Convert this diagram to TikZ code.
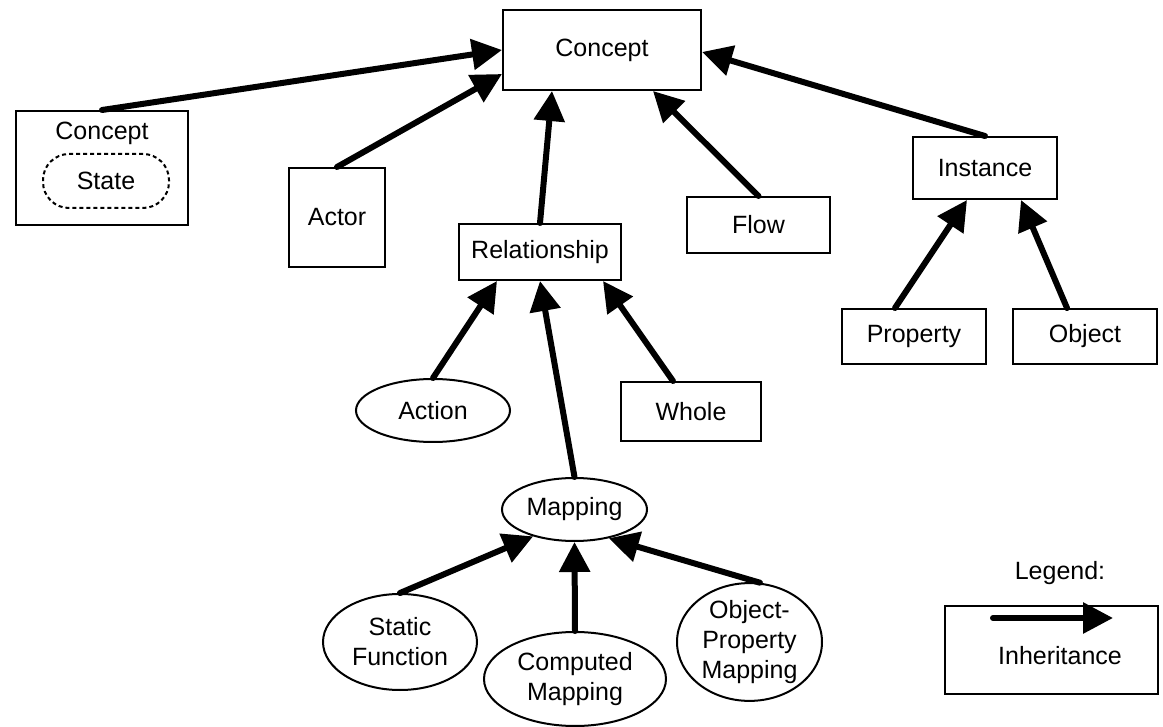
\documentclass[tikz,border=0pt]{standalone}
\usepackage{fontspec}
\setmainfont{Liberation Sans}
\usetikzlibrary{arrows.meta,shapes.geometric}
\tikzset{
  lbl/.style={inner sep=0pt,align=center,font=\fontsize{12.5}{15}\selectfont},
  box/.style={lbl,draw,line width=1pt},
  oval/.style={box,ellipse},
  isa/.style={line width=3pt,line cap=round,-{Triangle[length=15pt,width=15pt]}},
}

\begin{document}
\begin{tikzpicture}[x=0.5pt,y=-0.5pt]
\useasboundingbox (0,0) rectangle (1163,727);
% classes
\node[box,minimum width=99pt,minimum height=40pt] (concept) at (602,50) {Concept};
\node[box,minimum width=86pt,minimum height=57pt] (cstate) at (102,168) {};
\node[lbl] (cstatename) at (102,133) {Concept};
\node[box,rounded corners=13pt,dash pattern=on 2pt off 1.5pt,
      minimum width=63pt,minimum height=27pt] (state) at (106,181) {State};
\node[box,minimum width=48pt,minimum height=49.5pt] (actor) at (337,217.5) {Actor};
\node[box,minimum width=81pt,minimum height=28pt] (rel) at (540,252) {Relationship};
\node[box,minimum width=71.5pt,minimum height=28pt] (flow) at (758.5,225) {Flow};
\node[box,minimum width=72pt,minimum height=31pt] (inst) at (985,168) {Instance};
\node[box,minimum width=72pt,minimum height=27.5pt] (prop) at (914,336.5) {Property};
\node[box,minimum width=72pt,minimum height=27.5pt] (obj) at (1085,336.5) {Object};
\node[oval,minimum width=77pt,minimum height=31.5pt] (action) at (433,410.5) {Action};
\node[box,minimum width=70pt,minimum height=29.5pt] (whole) at (691,411.5) {Whole};
\node[oval,minimum width=72.5pt,minimum height=31.5pt] (mapping) at (574.5,509.5) {Mapping};
\node[oval,minimum width=77pt,minimum height=48pt] (static) at (400,642) {Static\\Function};
\node[oval,minimum width=91pt,minimum height=47pt] (computed) at (575,679) {Computed\\Mapping};
\node[oval,minimum width=72.5pt,minimum height=58pt] (objprop) at (749.5,642) {Object-\\Property\\Mapping};

% inheritance
\draw[isa] (cstate.north) -- (concept.west);
\draw[isa] (actor.north) -- ([yshift=-12pt]concept.west);
\draw[isa] (rel.north) -- ([xshift=-25pt]concept.south);
\draw[isa] (flow.north) -- ([xshift=25.5pt]concept.south);
\draw[isa] (inst.north) -- ([yshift=-1pt]concept.east);
\draw[isa] ([xshift=-9.5pt]prop.north) -- ([xshift=-9pt]inst.south);
\draw[isa] ([xshift=-9pt]obj.north) -- ([xshift=18pt]inst.south);
\draw[isa] (action.north) -- ([xshift=19.5pt]rel.south west);
\draw[isa] (mapping.north) -- (rel.south);
\draw[isa] ([xshift=-9pt]whole.north) -- ([xshift=-9.5pt]rel.south east);
\draw[isa] (static.north) -- (mapping.213);
\draw[isa] (computed.north) -- (mapping.south);
\draw[isa] (objprop.80) -- (mapping.-40);

% legend
\node[lbl] (legendname) at (1060,573) {Legend:};
\node[box,minimum width=106.5pt,minimum height=44pt] (legend) at (1051.5,650) {};
\coordinate (ltail) at (993,618);
\coordinate (lhead) at (1113,618);
\draw[isa] (ltail) -- (lhead);
\node[lbl] (legendtext) at (1060,656) {Inheritance};
\end{tikzpicture}
\end{document}
